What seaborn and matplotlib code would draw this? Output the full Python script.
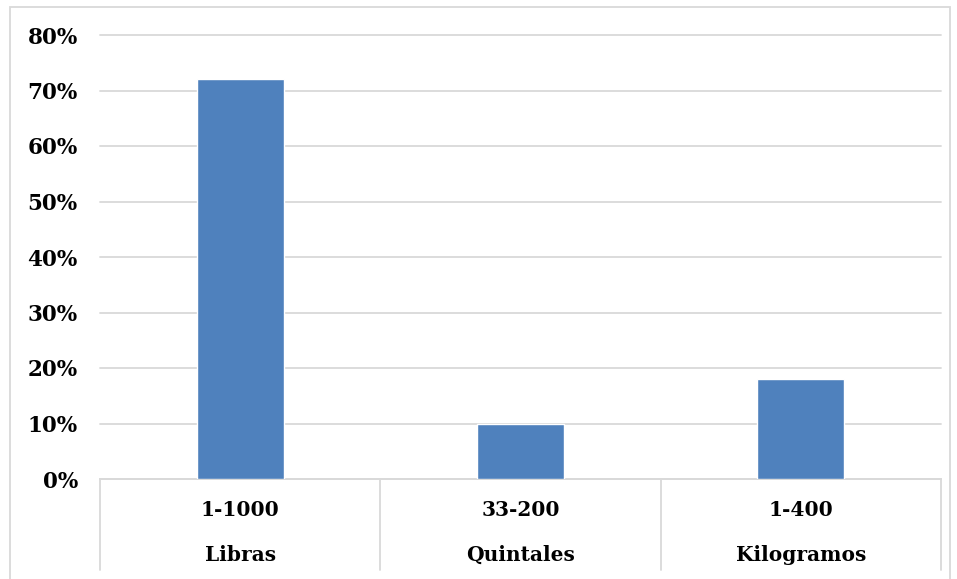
import matplotlib.pyplot as plt
import matplotlib.patches as mpatches
import pandas as pd
import seaborn as sns
from matplotlib.ticker import PercentFormatter

# datos
rangos = ["1-1000", "33-200", "1-400"]
unidades = ["Libras", "Quintales", "Kilogramos"]
porcentajes = [0.72, 0.10, 0.18]
yticks = [0, 0.1, 0.2, 0.3, 0.4, 0.5, 0.6, 0.7, 0.8]

df = pd.DataFrame({"rango": rangos, "unidad": unidades, "pct": porcentajes})

sns.set_style("white")
plt.rcParams["font.family"] = ["DejaVu Serif"]
plt.rcParams["font.weight"] = "bold"
plt.rcParams["text.color"] = "black"
plt.rcParams["ytick.color"] = "black"

fig = plt.figure(figsize=(9.57, 5.79), dpi=100)
W, H = 957, 579
ax = fig.add_axes([100 / W, 1 - 479 / H, 841 / W, 444 / H])

sns.barplot(data=df, x="rango", y="pct", color="#4f81bd", width=0.31,
            saturation=1, ax=ax, zorder=3)

ax.set_ylim(0, 0.8)
ax.set_yticks(yticks)
ax.yaxis.set_major_formatter(PercentFormatter(1.0, decimals=0))
ax.grid(axis="y", color="#d9d9d9", lw=1.3, zorder=0)
for gl in ax.get_ygridlines():
    gl.set_clip_on(False)
ax.tick_params(axis="y", length=0, pad=16, labelsize=15.5)
for lbl in ax.get_yticklabels():
    lbl.set_fontweight("bold")
ax.set_xlim(-0.5, 2.5)
ax.set_xticks([])
ax.set_xlabel("")
ax.set_ylabel("")
for s in ["left", "right", "top"]:
    ax.spines[s].set_visible(False)
ax.spines["bottom"].set_color("#d9d9d9")
ax.spines["bottom"].set_linewidth(1.3)

# eje de categorias en dos niveles
trans = ax.get_xaxis_transform()
for x in [-0.5, 0.5, 1.5, 2.5]:
    ax.plot([x, x], [0, -91 / 444], transform=trans, color="#d9d9d9",
            lw=1.3, clip_on=False)
for i, (r, u) in enumerate(zip(rangos, unidades)):
    ax.text(i, -31 / 444, r, transform=trans, ha="center", va="center",
            fontsize=14.5, fontweight="bold")
    ax.text(i, -76 / 444, u, transform=trans, ha="center", va="center",
            fontsize=14.5, fontweight="bold")

# borde exterior
fig.patches.append(mpatches.Rectangle((10 / W, -0.01), 940 / W, 1 - 7 / H + 0.01,
                                      transform=fig.transFigure, fill=False,
                                      edgecolor="#d9d9d9", lw=1.3))

fig.savefig("out.png", dpi=100)
